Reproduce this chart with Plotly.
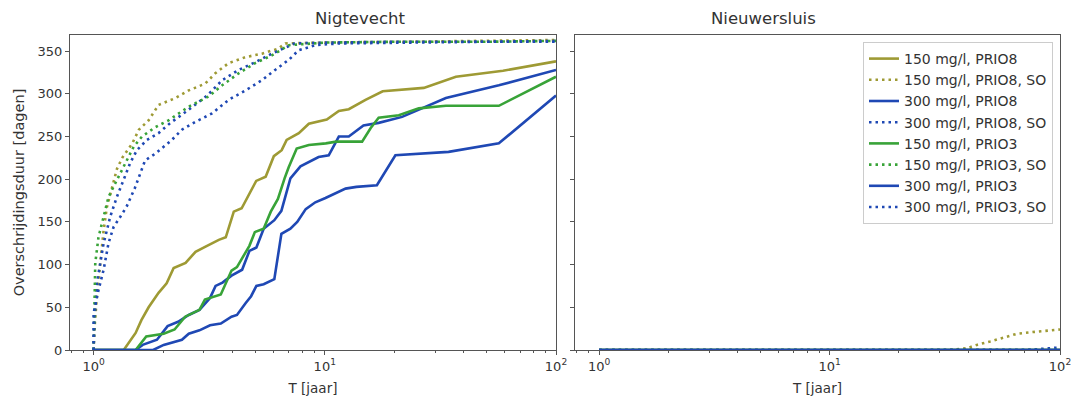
import plotly.graph_objects as go

# ---------------- data ----------------
names = ["150 mg/l, PRIO8", "150 mg/l, PRIO8, SO", "300 mg/l, PRIO8", "300 mg/l, PRIO8, SO",
         "150 mg/l, PRIO3", "150 mg/l, PRIO3, SO", "300 mg/l, PRIO3", "300 mg/l, PRIO3, SO"]

# Nigtevecht
nig_t_150_p8 = [1.0, 1.35, 1.52, 1.61, 1.73, 1.91, 2.07, 2.22, 2.50, 2.76, 3.05, 3.48, 3.73, 4.04, 4.37,
                5.05, 5.55, 6.02, 6.51, 6.84, 7.72, 8.53, 10.2, 11.5, 12.7, 15.0, 17.8, 26.8, 36.9, 59.0, 100]
nig_y_150_p8 = [0, 0, 20, 35, 50, 67, 78, 96, 102, 115, 121, 129, 132, 162, 166,
                198, 203, 227, 234, 246, 254, 265, 270, 280, 282, 293, 303, 307, 320, 327, 338]

nig_t_150_p8_so = [1.0, 1.012, 1.033, 1.069, 1.105, 1.141, 1.2, 1.262, 1.33, 1.47, 1.57, 1.73, 1.91, 2.26,
                   2.58, 3.04, 3.36, 3.84, 4.54, 5.35, 6.3, 6.75, 10, 20, 50, 100]
nig_y_150_p8_so = [0, 30, 62, 102, 140, 167, 190, 212, 225, 242, 258, 269, 287, 295,
                   304, 312, 324, 336, 343, 347, 353, 359, 360, 361, 362, 363]

nig_t_300_p8 = [1.0, 1.52, 1.63, 1.88, 2.09, 2.32, 2.58, 2.87, 3.19, 3.37, 3.61, 3.95, 4.39, 4.72, 5.06,
                5.44, 6.05, 6.49, 7.1, 7.85, 9.4, 10.4, 11.5, 12.7, 14.7, 17.1, 21.6, 33.4, 56.6, 100]
nig_y_300_p8 = [0, 0, 6, 12, 28, 33, 41, 47, 61, 75, 79, 87, 94, 116, 120,
                142, 152, 163, 201, 215, 226, 228, 250, 250, 263, 266, 273, 295, 310, 328]

nig_t_300_p8_so = [1.0, 1.012, 1.033, 1.069, 1.105, 1.141, 1.18, 1.26, 1.35, 1.44, 1.54, 1.7, 1.91, 2.15,
                   2.45, 2.8, 3.1, 3.6, 4.24, 5.0, 5.9, 7.4, 10, 20, 50, 100]
nig_y_300_p8_so = [0, 40, 78, 102, 125, 140, 156, 179, 199, 219, 234, 246, 254, 266,
                   277, 289, 298, 316, 328, 337, 347, 359, 360, 361, 361, 362]

nig_t_150_p3 = [1.0, 1.52, 1.69, 2.01, 2.24, 2.49, 2.87, 3.03, 3.55, 3.95, 4.17, 4.72, 4.98, 5.44, 5.84,
                6.27, 6.7, 6.98, 7.56, 8.53, 10.1, 11.2, 14.5, 15.8, 17.1, 20.9, 25.5, 33.4, 56.6, 100]
nig_y_150_p3 = [0, 0, 16, 19, 24, 39, 47, 59, 65, 93, 97, 122, 138, 142, 162,
                177, 201, 214, 236, 240, 242, 244, 244, 260, 272, 275, 283, 286, 286, 320]

nig_t_150_p3_so = [1.0, 1.008, 1.017, 1.05, 1.105, 1.16, 1.24, 1.305, 1.39, 1.49, 1.62, 1.85, 2.11, 2.58,
                   3.15, 3.6, 4.24, 5.0, 5.9, 7.0, 10, 20, 50, 100]
nig_y_150_p3_so = [0, 50, 102, 132, 156, 179, 195, 207, 222, 238, 250, 261, 269, 285,
                   297, 310, 324, 336, 345, 357, 360, 361, 361, 362]

nig_t_300_p3 = [1.0, 1.81, 2.01, 2.24, 2.41, 2.58, 2.87, 3.19, 3.55, 3.95, 4.17, 4.55, 4.8, 5.06, 5.44,
                6.05, 6.49, 7.1, 7.6, 8.27, 9.1, 10.07, 11.0, 12.3, 13.7, 16.8, 20.2, 34.3, 56.6, 100]
nig_y_300_p3 = [0, 0, 6, 10, 12, 19, 23, 29, 31, 39, 41, 55, 63, 75, 77,
                83, 136, 142, 150, 165, 173, 178, 183, 189, 191, 193, 228, 232, 242, 298]

nig_t_300_p3_so = [1.0, 1.0, 1.05, 1.105, 1.16, 1.22, 1.305, 1.39, 1.51, 1.67, 1.85, 2.18, 2.41, 2.75,
                   3.25, 3.84, 4.54, 5.35, 6.1, 7.0, 7.7, 9.1, 11.5, 20, 50, 100]
nig_y_300_p3_so = [0, 43, 70, 94, 125, 144, 156, 168, 190, 222, 230, 246, 258, 267,
                   277, 293, 304, 316, 328, 340, 351, 357, 359, 360, 361, 361]

# Nieuwersluis
nie_t_zero = [1.0, 100]
nie_y_zero = [0, 0]
nie_t_150_p8_so = [1.0, 33, 39.4, 43.6, 49.8, 57, 65, 76, 100]
nie_y_150_p8_so = [0, 0, 2, 6, 10, 15, 19, 21, 24]
nie_t_300_p8_so = [1.0, 70, 80, 90, 100]
nie_y_300_p8_so = [0, 0, 1, 2, 3]

nig_series = [(nig_t_150_p8, nig_y_150_p8), (nig_t_150_p8_so, nig_y_150_p8_so),
              (nig_t_300_p8, nig_y_300_p8), (nig_t_300_p8_so, nig_y_300_p8_so),
              (nig_t_150_p3, nig_y_150_p3), (nig_t_150_p3_so, nig_y_150_p3_so),
              (nig_t_300_p3, nig_y_300_p3), (nig_t_300_p3_so, nig_y_300_p3_so)]
nie_series = [(nie_t_zero, nie_y_zero), (nie_t_150_p8_so, nie_y_150_p8_so),
              (nie_t_zero, nie_y_zero), (nie_t_300_p8_so, nie_y_300_p8_so),
              (nie_t_zero, nie_y_zero), (nie_t_zero, nie_y_zero),
              (nie_t_zero, nie_y_zero), (nie_t_zero, nie_y_zero)]

x_tickvals = [1, 10, 100]
x_ticktext = ["10<sup>0</sup>", "10<sup>1</sup>", "10<sup>2</sup>"]
x_minor = [0.8, 0.9, 2, 3, 4, 5, 6, 7, 8, 9, 20, 30, 40, 50, 60, 70, 80, 90]
y_tickvals = [0, 50, 100, 150, 200, 250, 300, 350]

# ---------------- styles ----------------
OLIVE = "#9e9a34"
BLUE = "#1f48b4"
GREEN = "#38a338"
colors = [OLIVE, OLIVE, BLUE, BLUE, GREEN, GREEN, BLUE, BLUE]
dotted = [False, True, False, True, False, True, False, True]
DOT = "2.5px,4px"
TXT = "#333333"
FONT = "DejaVu Sans"

fig = go.Figure()
for i, (t, y) in enumerate(nig_series):
    fig.add_trace(go.Scatter(
        x=t, y=y, mode="lines", name=names[i], legendgroup=f"g{i}",
        line=dict(color=colors[i], width=2.6, dash=DOT if dotted[i] else "solid"),
        xaxis="x", yaxis="y", showlegend=True))
for i, (t, y) in enumerate(nie_series):
    fig.add_trace(go.Scatter(
        x=t, y=y, mode="lines", name=names[i], legendgroup=f"g{i}",
        line=dict(color=colors[i], width=2.6, dash=DOT if dotted[i] else "solid"),
        xaxis="x2", yaxis="y2", showlegend=False))

axis_common = dict(showline=True, mirror=True, linecolor="#555555", linewidth=1.2,
                   showgrid=False, zeroline=False, ticks="outside", ticklen=4, automargin=False,
                   tickcolor="#555555", tickfont=dict(family=FONT, size=13, color=TXT))

xax = dict(type="log", tickvals=x_tickvals, ticktext=x_ticktext,
           minor=dict(tickvals=x_minor, ticks="outside", ticklen=2, tickcolor="#555555"),
           title=dict(text="T [jaar]", font=dict(family=FONT, size=13.5, color=TXT), standoff=10),
           **axis_common)

W, H = 1083, 402
ML, MR, MT, MB = 70, 23, 35, 52
PW = W - ML - MR

fig.update_layout(
    width=W, height=H,
    margin=dict(l=ML, r=MR, t=MT, b=MB, autoexpand=False),
    paper_bgcolor="white", plot_bgcolor="white",
    xaxis=dict(domain=[0, (556 - ML) / PW], range=[-0.102, 2.0], anchor="y", **xax),
    xaxis2=dict(domain=[(575 - ML) / PW, 1], range=[-0.105, 2.0], anchor="y2", **xax),
    yaxis=dict(range=[0, 368.9], tickvals=y_tickvals, anchor="x",
               title=dict(text="Overschrijdingsduur [dagen]", font=dict(family=FONT, size=14.5, color=TXT),
                          standoff=9),
               **axis_common),
    yaxis2=dict(range=[0, 368.9], tickvals=y_tickvals, anchor="x2", matches="y",
                showticklabels=False, **axis_common),
    legend=dict(x=(1053 - ML) / PW, xanchor="right", y=1 - (42 - MT) / (H - MT - MB), yanchor="top",
                bgcolor="rgba(255,255,255,0.9)", bordercolor="#cccccc", borderwidth=1,
                font=dict(family=FONT, size=14, color=TXT), tracegroupgap=0),
    annotations=[
        dict(text="Nigtevecht", x=((70 + 556) / 2 - ML) / PW, y=1, xref="paper", yref="paper",
             yanchor="bottom", yshift=5, showarrow=False, font=dict(family=FONT, size=16.5, color=TXT)),
        dict(text="Nieuwersluis", x=((575 + 1060) / 2 - ML) / PW, y=1, xref="paper", yref="paper",
             yanchor="bottom", yshift=5, showarrow=False, font=dict(family=FONT, size=16.5, color=TXT)),
    ],
)

fig.write_html("out.html")
